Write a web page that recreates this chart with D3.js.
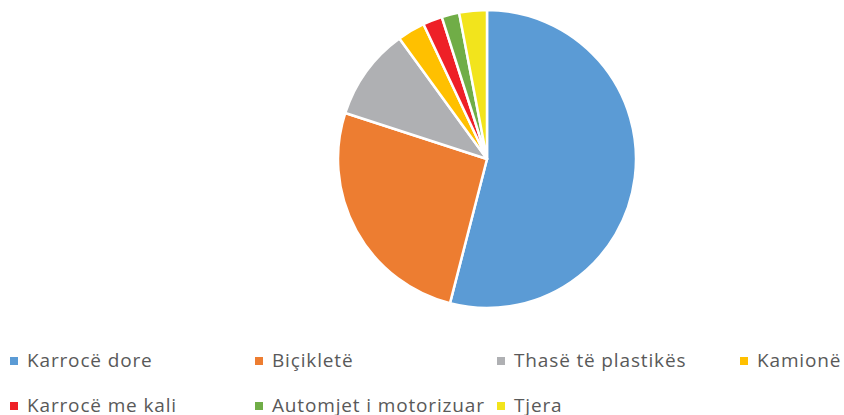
<!DOCTYPE html>
<html><head><meta charset="utf-8">
<script src="https://cdn.jsdelivr.net/npm/d3@7"></script>
<style>html,body{margin:0;padding:0;background:#fff;}svg{display:block;}</style>
</head><body>
<svg id="chart" width="844" height="415"></svg>
<script>
const categories = ["Karrocë dore","Biçikletë","Thasë të plastikës","Kamionë","Karrocë me kali","Automjet i motorizuar","Tjera"];
const values = [54, 26, 10, 3, 2.1, 1.9, 3];
const colors = ["#5B9BD5","#ED7D31","#AFB0B3","#FFC000","#EE2027","#70AD47","#F2E41C"];

const svg = d3.select("#chart");
const cx = 487, cy = 159, r = 149;
const pie = d3.pie().sort(null).value(d => d.v);
const arc = d3.arc().innerRadius(0).outerRadius(r);
const data = categories.map((c,i)=>({c, v: values[i], col: colors[i]}));

svg.append("g").attr("transform",`translate(${cx},${cy})`)
  .selectAll("path").data(pie(data)).join("path")
  .attr("d", arc).attr("fill", d=>d.data.col)
  .attr("stroke","#fff").attr("stroke-width",2.5).attr("stroke-linejoin","round");

const colX = [10, 255, 497, 740];
const rowY = [367, 412];
const layout = [[0,0],[0,1],[0,2],[0,3],[1,0],[1,1],[1,2]];
const lg = svg.append("g");
data.forEach((d,i)=>{
  const [row,col] = layout[i];
  const g = lg.append("g").attr("transform",`translate(${colX[col]},${rowY[row]})`);
  g.append("rect").attr("x",0).attr("y",-10).attr("width",8).attr("height",8).attr("fill",d.col);
  g.append("text").attr("x",17).attr("y",0).text(d.c)
    .attr("font-family","'Open Sans', sans-serif").attr("font-size",19)
    .attr("letter-spacing","0.85px").attr("fill","#595959");
});
</script>
</body></html>
